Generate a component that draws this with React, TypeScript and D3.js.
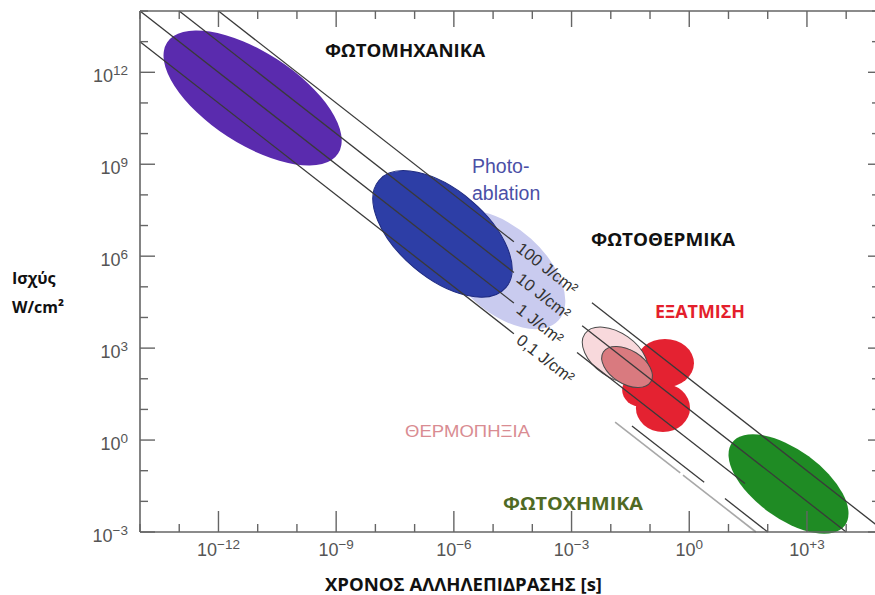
import React from "react";
import * as d3 from "d3";

const W = 875;
const H = 595;

// axis ticks (log10 exponents)
const xTickExps = [-12, -9, -6, -3, 0, 3];
const xTickLabels = ["−12", "−9", "−6", "−3", "0", "+3"];
const yTickExps = [12, 9, 6, 3, 0, -3];
const yTickLabels = ["12", "9", "6", "3", "0", "−3"];

// fluence lines (J/cm²) and their labels
const fluences = [100, 10, 1, 0.1];
const fluenceLabels = ["100 J/cm²", "10 J/cm²", "1 J/cm²", "0,1 J/cm²"];
// visible pieces of each fluence line, as log10(t) ranges
const fluenceSegments = [
  [[-15, -4.47], [-2.48, 6]],
  [[-15, -4.47], [-2.73, 6]],
  [[-15, -4.47], [-2.86, 1.42]],
  [[-15, -4.47], [-1.46, 0.38], [0.91, 6]],
];
// faint unlabelled line
const faintFluence = 0.05;
const faintSegments = [[-1.89, -0.23], [-0.16, 6]];

// regions: major-axis end points (log10 t, log10 P) and minor/major ratio
const lavender = { t: [-6.17, -3.33], p: [7.19, 3.91], ratio: 0.56 };
const photomechanical = { t: [-13.31, -8.95], p: [12.97, 9.35], ratio: 0.45 };
const photoablation = { t: [-7.91, -4.67], p: [8.47, 4.98], ratio: 0.53 };
const vaporMid = { t: [-1.71, -0.69], p: [1.63, 1.63], ratio: 0.85 };
const vaporUpper = { t: [-1.36, 0.12], p: [2.51, 2.51], ratio: 0.83 };
const vaporLower = { t: [-1.36, 0.02], p: [1.05, 1.05], ratio: 0.89 };
const coagLight = { t: [-2.66, -1.12], p: [3.47, 2.08], ratio: 0.6 };
const coagOverlap = { t: [-2.19, -0.98], p: [2.87, 1.9], ratio: 0.6 };
const photochemical = { t: [1.09, 3.97], p: [-0.09, -2.78], ratio: 0.49 };

const x = d3.scaleLog().domain([1e-14, 10 ** 4.76]).range([140, 876]);
const y = d3.scaleLog().domain([1e-3, 1e14]).range([532, 11]);

const LX = (lt: number) => x(10 ** lt);
const LY = (lp: number) => y(10 ** lp);

function Region({ r, fill, stroke, sw }: any) {
  const x1 = LX(r.t[0]), y1 = LY(r.p[0]);
  const x2 = LX(r.t[1]), y2 = LY(r.p[1]);
  const cx = (x1 + x2) / 2, cy = (y1 + y2) / 2;
  const a = Math.hypot(x2 - x1, y2 - y1) / 2;
  const ang = (Math.atan2(y2 - y1, x2 - x1) * 180) / Math.PI;
  return (
    <ellipse
      cx={cx}
      cy={cy}
      rx={a}
      ry={a * r.ratio}
      transform={`rotate(${ang} ${cx} ${cy})`}
      fill={fill}
      stroke={stroke || "none"}
      strokeWidth={sw || 0}
    />
  );
}

function fluencePath(E: number, seg: number[]) {
  const le = Math.log10(E);
  const lo = Math.max(seg[0], -14, le - 14);
  const hi = Math.min(seg[1], 4.76, le + 3);
  if (hi <= lo) return "";
  const line = d3.line<number>().x((lt) => LX(lt)).y((lt) => LY(le - lt));
  return line([lo, hi]) || "";
}

export default function App() {
  const decadesX = d3.range(-14, 5);
  const decadesY = d3.range(-3, 15);
  const axisColor = "#656565";
  const slopeAngle =
    (Math.atan2(LY(0) - LY(1), LX(1) - LX(0)) * 180) / Math.PI;
  const labelT = -4.34;
  const tickFont = "'Liberation Sans', Arial, sans-serif";
  const boldFont = "'Open Sans', 'Noto Sans', sans-serif";

  return (
    <svg
      width={W}
      height={H}
      style={{ position: "absolute", left: 0, top: 0, background: "#fff" }}
    >
      <rect x={0} y={0} width={W} height={H} fill="#fff" />
      {/* regions */}
      <Region r={lavender} fill="#c9cbef" />
      <Region r={photomechanical} fill="#5a2bae" />
      <Region r={photoablation} fill="#2d3ea6" stroke="#1e2a80" sw={1} />
      <Region r={vaporMid} fill="#e42231" />
      <Region r={vaporUpper} fill="#e42231" />
      <Region r={vaporLower} fill="#e42231" />
      <Region r={coagLight} fill="#f8d9dc" stroke="#4a4a4a" sw={1} />
      <Region r={coagOverlap} fill="#d97a7f" stroke="#4a4a4a" sw={1} />
      <Region r={photochemical} fill="#1f8b24" />

      {/* fluence lines */}
      {fluences.map((E, i) =>
        fluenceSegments[i].map((seg, j) => (
          <path
            key={`f${i}-${j}`}
            d={fluencePath(E, seg)}
            stroke="#3a3a3a"
            strokeWidth={1.3}
            fill="none"
          />
        ))
      )}
      {faintSegments.map((seg, j) => (
        <path
          key={`faint${j}`}
          d={fluencePath(faintFluence, seg)}
          stroke="#a8a8a8"
          strokeWidth={1.6}
          fill="none"
        />
      ))}
      {fluences.map((E, i) => {
        const px = LX(labelT);
        const py = LY(Math.log10(E) - labelT);
        return (
          <text
            key={`fl${i}`}
            x={px}
            y={py}
            dy="0.36em"
            transform={`rotate(${slopeAngle} ${px} ${py})`}
            fontFamily={tickFont}
            fontSize={16.5}
            fill="#333"
          >
            {fluenceLabels[i]}
          </text>
        );
      })}

      {/* axes */}
      <line x1={140} y1={11} x2={140} y2={532} stroke={axisColor} strokeWidth={1.6} />
      <line x1={140} y1={532} x2={876} y2={532} stroke={axisColor} strokeWidth={1.6} />
      <line x1={140} y1={11} x2={876} y2={11} stroke={axisColor} strokeWidth={1.6} />
      {decadesX.map((e) => {
        const major = e % 3 === 0;
        const xx = LX(e);
        return (
          <g key={`xt${e}`}>
            <line x1={xx} x2={xx} y1={532} y2={532 - (major ? 21 : 8)} stroke={axisColor} strokeWidth={1.4} />
            <line x1={xx} x2={xx} y1={11} y2={11 + (major ? 16 : 8)} stroke={axisColor} strokeWidth={1.4} />
          </g>
        );
      })}
      {decadesY.map((e) => {
        const major = e % 3 === 0;
        const yy = LY(e);
        return (
          <g key={`yt${e}`}>
            <line x1={140} x2={140 + (major ? 15 : 8)} y1={yy} y2={yy} stroke={axisColor} strokeWidth={1.4} />
            <line x1={876} x2={876 - (major ? 8 : 4)} y1={yy} y2={yy} stroke={axisColor} strokeWidth={1.4} />
          </g>
        );
      })}
      {xTickExps.map((e, i) => (
        <text
          key={`xl${e}`}
          x={LX(e)}
          y={556}
          textAnchor="middle"
          fontFamily={tickFont}
          fontSize={18}
          fill="#555"
        >
          10
          <tspan dy={-7} fontSize={13.5}>
            {xTickLabels[i]}
          </tspan>
        </text>
      ))}
      {yTickExps.map((e, i) => (
        <text
          key={`yl${e}`}
          x={128}
          y={LY(e) + 10}
          textAnchor="end"
          fontFamily={tickFont}
          fontSize={18}
          fill="#555"
        >
          10
          <tspan dy={-7} fontSize={13.5}>
            {yTickLabels[i]}
          </tspan>
        </text>
      ))}

      {/* axis titles */}
      <text x={12} y={284} fontFamily={boldFont} fontWeight={700} fontSize={16} fill="#111">
        Ισχύς
      </text>
      <text x={12} y={313} fontFamily={boldFont} fontWeight={700} fontSize={16} fill="#111">
        W/cm²
      </text>
      <text
        x={325}
        y={591}
        fontFamily={boldFont}
        fontWeight={700}
        fontSize={17.5}
        fill="#111"
        textLength={277}
        lengthAdjust="spacingAndGlyphs"
      >
        ΧΡΟΝΟΣ ΑΛΛΗΛΕΠΙΔΡΑΣΗΣ [s]
      </text>

      {/* region labels */}
      <text x={325} y={57} fontFamily={boldFont} fontWeight={700} fontSize={18} fill="#111" textLength={160} lengthAdjust="spacingAndGlyphs">
        ΦΩΤΟΜΗΧΑΝΙΚΑ
      </text>
      <text x={591} y={246} fontFamily={boldFont} fontWeight={700} fontSize={18} fill="#111" textLength={144} lengthAdjust="spacingAndGlyphs">
        ΦΩΤΟΘΕΡΜΙΚΑ
      </text>
      <text x={655} y={318} fontFamily={boldFont} fontWeight={700} fontSize={18} fill="#e41f2c" textLength={90} lengthAdjust="spacingAndGlyphs">
        ΕΞΑΤΜΙΣΗ
      </text>
      <text x={405} y={437} fontFamily={tickFont} fontSize={17} fill="#d98c92" textLength={125} lengthAdjust="spacingAndGlyphs">
        ΘΕΡΜΟΠΗΞΙΑ
      </text>
      <text x={503} y={510} fontFamily={boldFont} fontWeight={700} fontSize={18} fill="#4f6a24" textLength={140} lengthAdjust="spacingAndGlyphs">
        ΦΩΤΟΧΗΜΙΚΑ
      </text>
      <text x={472} y={173} fontFamily={tickFont} fontSize={19.5} fill="#4b4fa6">
        Photo-
      </text>
      <text x={472} y={200} fontFamily={tickFont} fontSize={19.5} fill="#4b4fa6">
        ablation
      </text>
    </svg>
  );
}
